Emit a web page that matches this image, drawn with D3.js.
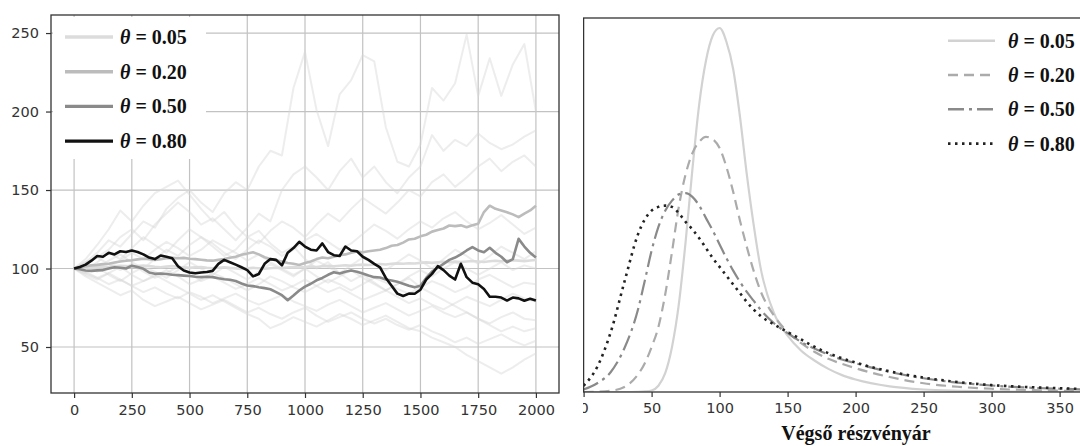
<!DOCTYPE html>
<html>
<head>
<meta charset="utf-8">
<script src="https://cdn.jsdelivr.net/npm/d3@7"></script>
<style>
  body { margin: 0; background: #fff; }
  svg { display: block; }
  .legend text { font-family: 'Liberation Serif', serif; font-weight: bold; font-size: 20px; fill: #111; }
</style>
</head>
<body>
<svg width="1080" height="446"></svg>
<script>
// ---- data ----
const thetaLabels = ['0.05', '0.20', '0.50', '0.80']
const xTicksLeft = [0, 250, 500, 750, 1000, 1250, 1500, 1750, 2000]
const yTicksLeft = [50, 100, 150, 200, 250]
const xTicksRight = [0, 50, 100, 150, 200, 250, 300, 350]

// time steps of the simulated paths
const steps = d3.range(0, 2001, 25)
const stepsFaint = d3.range(0, 2001, 50)

const path005 = [100, 100.3, 100.6, 100.4, 100.9, 101.2, 101, 101.4, 101.8, 101.5,
  101.2, 101.6, 101.9, 101.5, 101.1, 100.8, 101.2, 101.5, 101.1, 100.7,
  100.4, 100.7, 100.9, 100.5, 100.2, 100.5, 100.8, 100.4, 100.1, 99.8,
  100.1, 100.4, 100.2, 99.9, 100.2, 100.5, 100.3, 100.6, 100.9, 100.6,
  100.9, 101.2, 101, 101.4, 101.7, 101.4, 101.8, 102.1, 101.8, 102.2,
  102.5, 102.2, 102.6, 102.9, 102.6, 103, 103.3, 103, 103.4, 103.2,
  103.6, 103.9, 103.6, 104, 104.3, 104, 104.4, 104.1, 104.5, 104.8,
  104.5, 104.2, 104.6, 104.9, 104.6, 105, 105.3, 105, 104.7, 105.1,
  105.4]
const path020 = [100, 100.8, 101.5, 102, 102.3, 102.8, 103, 103.8, 104.5, 105,
  105.3, 105.8, 106.2, 106, 105.5, 106, 106.5, 106.8, 106.5, 106.8,
  106.2, 106, 105.6, 105.2, 105, 105.5, 106, 106.8, 107.5, 108.8,
  109.5, 110.4, 109, 107.2, 106, 105.2, 104.5, 103.5, 103, 102.2,
  103.5, 104.5, 106, 107, 106.5, 107.5, 108.5, 109, 110, 110.8,
  110.4, 111, 111.5, 112, 113, 114.5, 115, 116.5, 118.5, 119,
  120.5, 121.5, 123.5, 124.5, 125.5, 127.4, 127, 127.5, 126.3, 127.5,
  128.5, 136, 140, 138, 137, 135.9, 134.5, 132.7, 135, 137,
  140]
const path050 = [100, 99.5, 98.7, 98.5, 98.8, 99, 100, 100.8, 100.5, 100,
  101.8, 101, 99.8, 97.5, 96.6, 96.8, 96.5, 96, 95.8, 95.5,
  95.2, 94.8, 94.5, 94.8, 94.5, 93.8, 93.2, 92.8, 92, 90.5,
  89.2, 88.8, 88.1, 87.5, 86.8, 85, 83, 79.8, 82.8, 86,
  88.5, 90.3, 92.5, 94, 96, 97.6, 96.8, 98, 98.7, 98,
  96.8, 95.5, 94.5, 94.3, 93, 92.4, 91.5, 90.3, 89, 88,
  89, 94, 98, 100.5, 103, 105.5, 107, 109, 111.5, 113.6,
  111.5, 110.4, 113.2, 110, 107.5, 104, 106, 118.9, 114, 110,
  107]
const path080 = [100, 101, 102.5, 105, 108, 107.5, 110, 109, 111, 110.5,
  111.5, 110.5, 109, 107, 106, 108.3, 107.5, 106.5, 101.5, 98.7,
  97.5, 97, 97.5, 97.8, 98.5, 103, 105.5, 104, 102.5, 100.8,
  99, 95, 96.5, 103, 106, 105.5, 102, 110, 113, 117,
  114, 112, 111.5, 116, 110.5, 108.5, 108, 114, 111.5, 111,
  107.5, 105.5, 103, 100.8, 94, 89, 84, 82.5, 84, 83.9,
  86.5, 93, 96.6, 101.5, 99, 95.5, 93, 103, 94.5, 91,
  90, 87, 82, 82, 81.5, 79.6, 81.5, 81, 79.5, 80.7,
  79.6]

// background paths (every 50 steps)
const faintPaths = [
  [100, 104, 110, 118, 114, 122, 130, 126, 138, 145, 150, 142, 136, 148, 155, 150, 165, 175, 172, 215,
    238, 201, 178, 211, 220, 236, 232, 190, 168, 165, 179, 215, 207, 218, 249, 210, 234, 210, 230, 243, 200],
  [100, 103, 107, 112, 120, 125, 118, 128, 135, 142, 136, 128, 132, 125, 118, 126, 135, 130, 150, 160,
    165, 158, 150, 162, 170, 158, 165, 155, 148, 158, 165, 185, 175, 182, 178, 186, 180, 176, 179, 184, 188],
  [100, 98, 104, 110, 106, 113, 120, 115, 110, 118, 125, 120, 114, 108, 112, 120, 116, 124, 130, 126,
    120, 128, 135, 130, 138, 145, 140, 135, 142, 150, 146, 155, 160, 152, 158, 165, 170, 162, 168, 172, 165],
  [100, 103, 100, 105, 109, 104, 100, 106, 112, 108, 115, 120, 116, 110, 106, 112, 118, 114, 108, 112,
    118, 122, 117, 112, 116, 122, 128, 124, 119, 125, 130, 126, 132, 136, 130, 125, 129, 134, 128, 122, 126],
  [100, 97, 101, 96, 92, 97, 101, 98, 94, 99, 104, 100, 96, 101, 97, 93, 98, 103, 99, 95,
    100, 105, 101, 97, 102, 107, 103, 99, 104, 109, 105, 100, 106, 112, 108, 103, 108, 114, 110, 106, 111],
  [100, 96, 93, 97, 101, 96, 92, 95, 99, 95, 90, 93, 97, 94, 90, 86, 90, 95, 92, 88,
    85, 89, 93, 90, 86, 90, 94, 91, 87, 84, 88, 92, 89, 85, 88, 93, 96, 92, 88, 91, 90],
  [100, 97, 94, 90, 93, 89, 85, 88, 84, 81, 85, 82, 78, 81, 84, 80, 77, 80, 83, 79,
    76, 73, 77, 80, 76, 72, 75, 78, 74, 70, 73, 76, 72, 69, 72, 68, 65, 69, 72, 68, 67],
  [100, 95, 91, 87, 83, 86, 80, 76, 79, 82, 78, 74, 77, 80, 76, 72, 75, 71, 68, 72,
    75, 70, 66, 69, 72, 68, 65, 68, 64, 61, 64, 60, 57, 53, 56, 52, 55, 58, 54, 51, 54],
  [100, 98, 94, 97, 93, 89, 92, 96, 92, 88, 84, 80, 83, 79, 75, 71, 68, 62, 65, 69,
    66, 63, 67, 71, 68, 64, 67, 70, 66, 62, 60, 56, 53, 50, 45, 41, 37, 33, 37, 42, 46],
  [100, 104, 107, 103, 99, 103, 98, 94, 97, 101, 97, 92, 95, 91, 87, 90, 94, 90, 86, 89,
    93, 89, 85, 88, 84, 80, 83, 86, 82, 78, 81, 77, 74, 78, 82, 79, 76, 80, 84, 81, 79],
  [100, 106, 115, 125, 137, 130, 140, 148, 152, 156, 147, 138, 130, 136, 127, 120, 124, 116, 110, 114,
    106, 100, 104, 97, 92, 96, 91, 86, 90, 94, 88, 84, 80, 76, 72, 68, 64, 60, 63, 60, 62],
  [100, 102, 98, 101, 105, 110, 106, 112, 117, 113, 108, 112, 118, 114, 110, 105, 109, 104, 100, 96,
    100, 95, 91, 95, 99, 94, 90, 86, 90, 95, 99, 95, 100, 104, 100, 96, 100, 104, 99, 102, 100]
]

// density of the final price
const priceGrid = [0, 10, 20, 30, 40, 45, 50, 55, 60, 65, 70, 75, 80, 85, 90, 95, 100, 105, 110, 115,
  120, 125, 130, 140, 150, 160, 170, 180, 190, 200, 225, 250, 275, 300, 325, 350, 380]
const dens005 = [0, 0, 0, 0, 0.02, 0.05, 0.12, 0.5, 1.5, 3.6, 7.0, 12.0, 17.8, 23.0, 26.5, 28.5, 29.1, 28.0, 25.8, 22.0,
  17.4, 13.4, 10.0, 6.3, 4.5, 3.3, 2.5, 1.85, 1.35, 1.0, 0.45, 0.2, 0.1, 0.05, 0.02, 0.01, 0]
const dens020 = [0, 0.02, 0.1, 0.4, 1.4, 2.3, 3.6, 5.2, 7.8, 11.2, 14.8, 17.4, 19.1, 20.0, 20.4, 20.2, 19.5, 18.0, 16.0, 13.7,
  11.6, 9.7, 8.1, 6.1, 4.8, 3.9, 3.2, 2.65, 2.25, 1.9, 1.2, 0.7, 0.42, 0.26, 0.16, 0.1, 0.05]
const dens050 = [0.2, 0.7, 1.6, 3.5, 6.6, 8.9, 11.3, 13.2, 14.5, 15.3, 15.8, 15.9, 15.6, 14.9, 13.9, 12.9, 11.8, 10.7, 9.7, 8.8,
  8.0, 7.3, 6.6, 5.5, 4.7, 4.0, 3.45, 3.0, 2.6, 2.3, 1.6, 1.1, 0.75, 0.52, 0.36, 0.26, 0.18]
const dens080 = [0.5, 2.0, 4.8, 8.8, 12.6, 13.8, 14.5, 14.8, 14.9, 14.8, 14.3, 13.6, 13.0, 12.3, 11.5, 10.7, 10.0, 9.3, 8.6, 7.9,
  7.2, 6.6, 6.1, 5.4, 4.8, 4.2, 3.6, 3.1, 2.7, 2.35, 1.65, 1.15, 0.8, 0.55, 0.4, 0.3, 0.2]

// ---- styles per theta ----
const pathColors = ['#dcdcdc', '#bcbcbc', '#8a8a8a', '#111111']
const densColors = ['#d2d2d2', '#ababab', '#8a8a8a', '#222222']
const densDash = [null, '10,6', '16,5,3,5', '2.5,4.5']

const svg = d3.select('svg')
const defs = svg.append('defs')

// ================= left panel =================
const L = { x0: 51, x1: 559, y0: 15, y1: 393 }
const xL = d3.scaleLinear().domain([-100, 2100]).range([L.x0, L.x1])
const yL = d3.scaleLinear().domain([20.7, 261.5]).range([L.y1, L.y0])

defs.append('clipPath').attr('id', 'clipL')
  .append('rect').attr('x', L.x0).attr('y', L.y0).attr('width', L.x1 - L.x0).attr('height', L.y1 - L.y0)

const gridL = svg.append('g').attr('stroke', '#c2c2c2').attr('stroke-width', 1.2)
gridL.selectAll('.vx').data(xTicksLeft).enter().append('line')
  .attr('x1', d => xL(d)).attr('x2', d => xL(d)).attr('y1', L.y0).attr('y2', L.y1)
gridL.selectAll('.hy').data(yTicksLeft).enter().append('line')
  .attr('x1', L.x0).attr('x2', L.x1).attr('y1', d => yL(d)).attr('y2', d => yL(d))

const plotL = svg.append('g').attr('clip-path', 'url(#clipL)')
const lineFaint = d3.line().x((d, i) => xL(stepsFaint[i])).y(d => yL(d))
plotL.selectAll('.faint').data(faintPaths).enter().append('path')
  .attr('d', lineFaint)
  .attr('fill', 'none')
  .attr('stroke', '#d6d6d6')
  .attr('stroke-opacity', 0.45)
  .attr('stroke-width', 2)
  .attr('stroke-linejoin', 'round')

const lineMain = d3.line().x((d, i) => xL(steps[i])).y(d => yL(d))
const mainPaths = [path005, path020, path050, path080]
plotL.selectAll('.main').data(mainPaths).enter().append('path')
  .attr('d', lineMain)
  .attr('fill', 'none')
  .attr('stroke', (d, i) => pathColors[i])
  .attr('stroke-width', 2.6)
  .attr('stroke-linejoin', 'round')

function styleAxis(g) {
  g.select('.domain').remove()
  g.selectAll('.tick line').attr('stroke', '#333').attr('stroke-width', 1.2)
  g.selectAll('.tick text')
    .style('font-family', "'DejaVu Sans', sans-serif")
    .style('font-size', '14.5px')
    .style('fill', '#333')
}

svg.append('g').attr('transform', `translate(0,${L.y1})`)
  .call(d3.axisBottom(xL).tickValues(xTicksLeft).tickSize(5).tickPadding(7).tickFormat(d3.format('d')))
  .call(styleAxis)
svg.append('g').attr('transform', `translate(${L.x0},0)`)
  .call(d3.axisLeft(yL).tickValues(yTicksLeft).tickSize(5).tickPadding(7).tickFormat(d3.format('d')))
  .call(styleAxis)

svg.append('rect')
  .attr('x', L.x0).attr('y', L.y0).attr('width', L.x1 - L.x0).attr('height', L.y1 - L.y0)
  .attr('fill', 'none').attr('stroke', '#333').attr('stroke-width', 1.3)

// left legend
const legL = svg.append('g').attr('class', 'legend')
legL.append('rect').attr('x', 53).attr('y', 17).attr('width', 153).attr('height', 142).attr('fill', '#fff')
thetaLabels.forEach((lab, i) => {
  const y = 37 + i * 34.7
  legL.append('line').attr('x1', 65).attr('x2', 113).attr('y1', y).attr('y2', y)
    .attr('stroke', pathColors[i]).attr('stroke-width', 3.4)
  const t = legL.append('text').attr('x', 120).attr('y', y + 7)
  t.append('tspan').attr('font-style', 'italic').text('θ')
  t.append('tspan').text(' = ' + lab)
})

// ================= right panel =================
const R = { x0: 583.6, x1: 1100, y0: 18, y1: 392 }
const xR = d3.scaleLinear().domain([0, 380]).range([R.x0, R.x0 + 380 * 1.36])
const yR = d3.scaleLinear().domain([0, 29.9]).range([R.y1, R.y0])

defs.append('clipPath').attr('id', 'clipPanelR')
  .append('rect').attr('x', 583).attr('y', 0).attr('width', 500).attr('height', 446)
defs.append('clipPath').attr('id', 'clipR')
  .append('rect').attr('x', R.x0).attr('y', R.y0).attr('width', R.x1 - R.x0).attr('height', R.y1 - R.y0)

const panelR = svg.append('g').attr('clip-path', 'url(#clipPanelR)')
const plotR = panelR.append('g').attr('clip-path', 'url(#clipR)')

const densities = [dens005, dens020, dens050, dens080]
const lineDens = d3.line().x((d, i) => xR(priceGrid[i])).y(d => yR(d)).curve(d3.curveMonotoneX)
plotR.selectAll('.dens').data(densities).enter().append('path')
  .attr('d', lineDens)
  .attr('fill', 'none')
  .attr('stroke', (d, i) => densColors[i])
  .attr('stroke-width', (d, i) => (i === 3 ? 2.6 : 2.2))
  .attr('stroke-dasharray', (d, i) => densDash[i])

panelR.append('g').attr('transform', `translate(0,${R.y1})`)
  .call(d3.axisBottom(xR).tickValues(xTicksRight).tickSize(5).tickPadding(6).tickFormat(d3.format('d')))
  .call(styleAxis)

panelR.append('rect')
  .attr('x', R.x0).attr('y', R.y0).attr('width', R.x1 - R.x0).attr('height', R.y1 - R.y0)
  .attr('fill', 'none').attr('stroke', '#333').attr('stroke-width', 1.3)

// right legend
const legR = svg.append('g').attr('class', 'legend')
thetaLabels.forEach((lab, i) => {
  const y = 40.7 + i * 34.3
  legR.append('line').attr('x1', 948).attr('x2', 995).attr('y1', y).attr('y2', y)
    .attr('stroke', densColors[i]).attr('stroke-width', i === 3 ? 2.8 : 2.4)
    .attr('stroke-dasharray', densDash[i])
  const t = legR.append('text').attr('x', 1008).attr('y', y + 7)
  t.append('tspan').attr('font-style', 'italic').text('θ')
  t.append('tspan').text(' = ' + lab)
})

svg.append('text')
  .attr('x', 856).attr('y', 440)
  .attr('text-anchor', 'middle')
  .style('font-family', "'Liberation Serif', serif")
  .style('font-weight', 'bold')
  .style('font-size', '20px')
  .style('fill', '#111')
  .text('Végső részvényár')
</script>
</body>
</html>
